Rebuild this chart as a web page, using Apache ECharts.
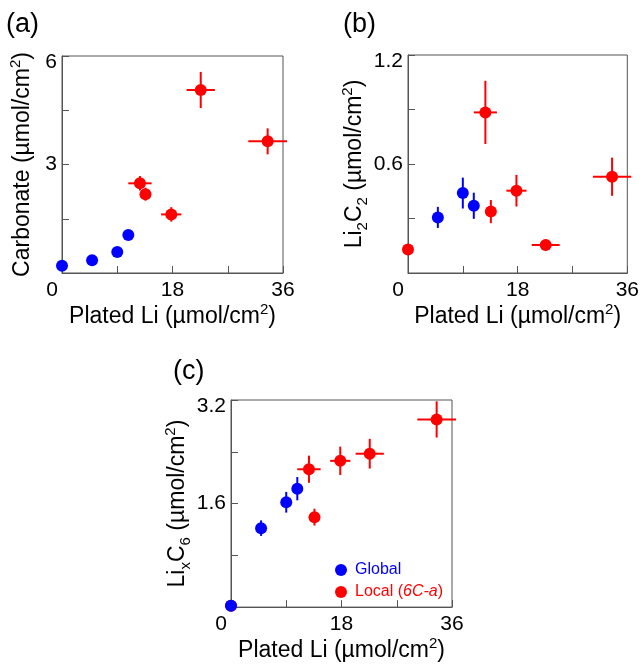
<!DOCTYPE html>
<html>
<head>
<meta charset="utf-8">
<script src="https://cdn.jsdelivr.net/npm/echarts@6/dist/echarts.min.js"></script>
<style>
  html, body { margin: 0; padding: 0; background: #fff; }
  #main { width: 642px; height: 667px; }
</style>
</head>
<body>
<div id="main"></div>
<script>
// plated Li (x) for the two sample groups
const globalX = [0, 4.9, 9.0, 10.8];
const localX = [0, 12.7, 13.6, 17.8, 22.6, 33.5];
const localXErr = [0, 1.9, 0.4, 1.65, 2.3, 3.15];
const xTicks = [0, 18, 36];

// (a) carbonate
const carbGlobal = [0.2, 0.35, 0.58, 1.05];
const carbLocal = [null, 2.48, 2.18, 1.62, 5.06, 3.64];
const carbLocalErr = [0, 0.2, 0.18, 0.2, 0.5, 0.36];
const carbTicks = [0, 3, 6];

// (b) Li2C2
const li2c2Global = [null, 0.306, 0.44, 0.37];
const li2c2GlobalErr = [0, 0.058, 0.085, 0.072];
const li2c2Local = [0.13, 0.884, 0.338, 0.453, 0.154, 0.53];
const li2c2LocalErr = [0, 0.174, 0.064, 0.087, 0.03, 0.105];
const li2c2Ticks = [0, 0.6, 1.2];

// (c) LixC6
const lixc6Global = [0.02, 1.22, 1.62, 1.83];
const lixc6GlobalErr = [0, 0.12, 0.16, 0.18];
const lixc6Local = [0.02, 2.13, 1.39, 2.26, 2.37, 2.9];
const lixc6LocalErr = [0, 0.21, 0.13, 0.22, 0.23, 0.28];
const lixc6Ticks = [0, 1.6, 3.2];

const BLUE = '#0000ff';
const RED = '#ff0000';
const FONT = 'Liberation Sans';
const FRAME = '#555555';

function points(xs, ys, xe, ye) {
    let out = [];
    for (let i = 0; i < xs.length; i = i + 1) {
        if (ys[i] === null) continue;
        out.push([xs[i], ys[i], xe ? xe[i] : 0, ye ? ye[i] : 0]);
    }
    return out;
}

function errRenderer(color) {
    return function (params, api) {
        let x = api.value(0), y = api.value(1), xe = api.value(2), ye = api.value(3);
        let kids = [];
        if (xe > 0) {
            let p1 = api.coord([x - xe, y]), p2 = api.coord([x + xe, y]);
            kids.push({type: 'line', shape: {x1: p1[0], y1: p1[1], x2: p2[0], y2: p2[1]}, style: {stroke: color, lineWidth: 2}});
        }
        if (ye > 0) {
            let p1 = api.coord([x, y - ye]), p2 = api.coord([x, y + ye]);
            kids.push({type: 'line', shape: {x1: p1[0], y1: p1[1], x2: p2[0], y2: p2[1]}, style: {stroke: color, lineWidth: 2}});
        }
        return {type: 'group', children: kids};
    };
}

function isMajor(v, ticks) {
    return ticks.some(t => Math.abs(t - v) < 1e-6);
}

const richName = {
    sup: {fontSize: 15, lineHeight: 22, verticalAlign: 'top', fontFamily: FONT, color: '#000'},
    sub: {fontSize: 15, lineHeight: 16, verticalAlign: 'bottom', fontFamily: FONT, color: '#000'}
};

function xAxisFor(idx) {
    return {
        type: 'value', gridIndex: idx, min: xTicks[0], max: xTicks[2], interval: (xTicks[1] - xTicks[0]) / 2,
        name: 'Plated Li (µmol/cm{sup|2})', nameLocation: 'middle', nameGap: 25,
        nameTextStyle: {fontSize: 23, lineHeight: 30, fontFamily: FONT, color: '#000', rich: richName},
        axisLine: {show: true, lineStyle: {color: FRAME, width: 1}},
        axisTick: {show: true, inside: true, length: 7, lineStyle: {color: FRAME}},
        splitLine: {show: false},
        axisLabel: {
            fontSize: 21, fontFamily: FONT, color: '#000', margin: 7, showMinLabel: true, showMaxLabel: true,
            formatter: function (v) {
                if (!isMajor(v, xTicks)) return '';
                if (v === 0) return '{z|0}';
                return String(v);
            },
            rich: {z: {fontSize: 21, fontFamily: FONT, color: '#000', padding: [0, 20, 0, 0]}}
        }
    };
}

function yAxisFor(idx, ticks, name, gap) {
    return {
        type: 'value', gridIndex: idx, min: ticks[0], max: ticks[2], interval: (ticks[1] - ticks[0]) / 2,
        name: name, nameLocation: 'middle', nameGap: gap, nameRotate: 90,
        nameTextStyle: {fontSize: 23, lineHeight: 30, fontFamily: FONT, color: '#000', rich: richName},
        axisLine: {show: true, lineStyle: {color: FRAME, width: 1}},
        axisTick: {show: true, inside: true, length: 7, lineStyle: {color: FRAME}},
        splitLine: {show: false},
        axisLabel: {
            fontSize: 21, fontFamily: FONT, color: '#000', margin: 5, showMinLabel: true, showMaxLabel: true,
            formatter: function (v) {
                if (!isMajor(v, ticks) || v === 0) return '';
                if (Math.abs(v - ticks[2]) < 1e-6) return '{t|' + v + '}';
                return String(v);
            },
            rich: {t: {fontSize: 21, fontFamily: FONT, color: '#000', padding: [12, 0, 0, 0]}}
        }
    };
}

function panelSeries(idx, gY, gYErr, lY, lYErr) {
    let g = points(globalX, gY, null, gYErr);
    let l = points(localX, lY, localXErr, lYErr);
    return [
        {type: 'custom', name: 'Local err', xAxisIndex: idx, yAxisIndex: idx, data: l, renderItem: errRenderer(RED), encode: {x: 0, y: 1}, z: 1, silent: true},
        {type: 'custom', name: 'Global err', xAxisIndex: idx, yAxisIndex: idx, data: g, renderItem: errRenderer(BLUE), encode: {x: 0, y: 1}, z: 1, silent: true},
        {type: 'scatter', name: 'Local', xAxisIndex: idx, yAxisIndex: idx, data: l.map(p => [p[0], p[1]]), symbolSize: 12, itemStyle: {color: RED, opacity: 1}, z: 3},
        {type: 'scatter', name: 'Global', xAxisIndex: idx, yAxisIndex: idx, data: g.map(p => [p[0], p[1]]), symbolSize: 12, itemStyle: {color: BLUE, opacity: 1}, z: 3}
    ];
}

let myChart = echarts.init(document.getElementById('main'), null, {renderer: 'canvas'});

const titleStyle = {fontSize: 27, fontWeight: 'normal', fontFamily: FONT, color: '#000'};

let option = {
    backgroundColor: '#ffffff',
    animation: false,
    title: [
        {text: '(a)', left: 6, top: 11, textStyle: titleStyle, padding: 0},
        {text: '(b)', left: 343, top: 11, textStyle: titleStyle, padding: 0},
        {text: '(c)', left: 173, top: 358, textStyle: titleStyle, padding: 0}
    ],
    legend: {
        orient: 'vertical', left: 335, top: 562, itemWidth: 12, itemHeight: 12, itemGap: 6,
        icon: 'circle', padding: 0, selectedMode: false,
        textStyle: {fontSize: 16, fontFamily: FONT, padding: [0, 0, 0, 3]},
        data: [
            {name: 'Global', textStyle: {color: BLUE}},
            {name: 'Local', textStyle: {color: RED}}
        ],
        formatter: function (name) {
            return name === 'Local' ? 'Local ({it|6C-a})' : name;
        }
    },
    grid: [
        {left: 62, top: 56, width: 221, height: 217, show: true, borderColor: FRAME, borderWidth: 1, backgroundColor: 'transparent'},
        {left: 408, top: 55, width: 221, height: 218, show: true, borderColor: FRAME, borderWidth: 1, backgroundColor: 'transparent'},
        {left: 231, top: 400, width: 221, height: 216, show: true, borderColor: FRAME, borderWidth: 1, backgroundColor: 'transparent'}
    ],
    xAxis: [xAxisFor(0), xAxisFor(1), xAxisFor(2)],
    yAxis: [
        yAxisFor(0, carbTicks, 'Carbonate (µmol/cm{sup|2})', 24),
        yAxisFor(1, li2c2Ticks, 'Li{sub|2}C{sub|2} (µmol/cm{sup|2})', 36),
        yAxisFor(2, lixc6Ticks, 'Li{sub|x}C{sub|6} (µmol/cm{sup|2})', 33)
    ],
    series: [].concat(
        panelSeries(0, carbGlobal, null, carbLocal, carbLocalErr),
        panelSeries(1, li2c2Global, li2c2GlobalErr, li2c2Local, li2c2LocalErr),
        panelSeries(2, lixc6Global, lixc6GlobalErr, lixc6Local, lixc6LocalErr)
    )
};
option.legend.textStyle.rich = {it: {fontSize: 16, fontFamily: FONT, fontStyle: 'italic', color: RED}};

myChart.setOption(option);
</script>
</body>
</html>
